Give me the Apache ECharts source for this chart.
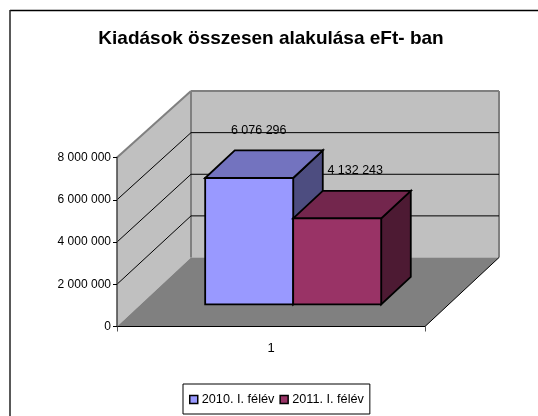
<!DOCTYPE html>
<html><head><meta charset="utf-8">
<style>html,body{margin:0;padding:0;background:#fff}#c{width:538px;height:416px}</style>
<script src="https://cdn.jsdelivr.net/npm/echarts@6/dist/echarts.min.js"></script>
</head><body><div id="c"></div>
<script>
const categories = ['1'];
const seriesNames = ['2010. I. félév', '2011. I. félév'];
const values2010 = [6076296];
const values2011 = [4132243];
const valueLabels2010 = ['6 076 296'];
const valueLabels2011 = ['4 132 243'];
const yMin = 0, yMax = 8000000, yStep = 2000000;
const gridTicks = [2000000, 4000000, 6000000];

const FONT = '"Liberation Sans", Arial, sans-serif';
const DX = 74, DY = -69;          // full depth of the floor
const SCALE = 0.985;              // bars and back wall are slightly foreshortened
const BAR_START = 0.32, BAR_DEPTH = 0.4, GAP = 64.5 / 308, BAR_WIDTH = 88 / 308;

const fmt = v => String(v).replace(/\B(?=(\d{3})+$)/g, ' ');

const chart = echarts.init(document.getElementById('c'), null, {renderer: 'canvas'});

function renderWalls(params, api) {
  const o = api.coord([0, yMin]);
  const size = api.size([1, 0])[0];
  const x0 = o[0] - size / 2, y0 = o[1];
  const top = api.coord([0, yMax])[1];
  const x1 = x0 + size;
  const backH = (y0 - top) * SCALE;
  const poly = (pts, fill, stroke, lw) => ({type: 'polygon', shape: {points: pts},
    style: {fill, stroke: stroke || 'none', lineWidth: lw || 0}});
  const line = (a, b, stroke, lw) => ({type: 'line', shape: {x1: a[0], y1: a[1], x2: b[0], y2: b[1]},
    style: {stroke, lineWidth: lw || 1}});
  const bx = x0 + DX, by = y0 + DY;
  const children = [
    poly([[x0, y0], [x0, top], [bx, by - backH], [bx, by]], '#C0C0C0'),
    poly([[bx, by], [bx, by - backH], [bx + size, by - backH], [bx + size, by]], '#C0C0C0'),
    poly([[x0, y0], [bx, by], [bx + size, by], [x1, y0]], '#808080'),
    line([x0, top], [bx, by - backH], '#808080', 2),
    line([bx, by - backH], [bx + size, by - backH], '#808080', 2),
    line([bx + size, by - backH], [bx + size, by], '#808080', 2),
    line([bx, by - backH], [bx, by], '#808080', 2),
    line([x1, y0], [bx + size, by], '#000', 1)
  ];
  gridTicks.forEach(t => {
    const fy = api.coord([0, t])[1];
    const by2 = by - (y0 - fy) * SCALE;
    children.push(line([x0, fy], [bx, by2], '#000', 1));
    children.push(line([bx, by2], [bx + size, by2], '#000', 1));
  });
  return {type: 'group', children};
}

function barRenderer(order, fill, topFill, sideFill, text, labelDx) {
  return function (params, api) {
    const value = api.value(1);
    const o = api.coord([0, yMin]);
    const size = api.size([1, 0])[0];
    const h = (o[1] - api.coord([0, value])[1]) * SCALE;
    const w = size * BAR_WIDTH;
    const x = o[0] - size / 2 + size * GAP + w * order + DX * BAR_START;
    const base = o[1] + DY * BAR_START;
    const t = base - h;
    const dx = DX * BAR_DEPTH, dy = DY * BAR_DEPTH;
    const st = (f) => ({fill: f, stroke: '#000', lineWidth: 1.8, lineJoin: 'miter'});
    return {type: 'group', children: [
      {type: 'polygon', shape: {points: [[x + w, t], [x + w + dx, t + dy], [x + w + dx, base + dy], [x + w, base]]}, style: st(sideFill)},
      {type: 'polygon', shape: {points: [[x, t], [x + dx, t + dy], [x + w + dx, t + dy], [x + w, t]]}, style: st(topFill)},
      {type: 'rect', shape: {x, y: t, width: w, height: h}, style: st(fill)},
      {type: 'text', style: {x: x + w / 2 + labelDx, y: t - 47.5, text, fill: '#000',
        font: '12.5px ' + FONT, align: 'center', verticalAlign: 'middle'}}
    ]};
  };
}

chart.setOption({
  animation: false,
  backgroundColor: '#fff',
  title: {
    text: 'Kiadások összesen alakulása eFt- ban',
    left: 266, top: 24, textAlign: 'center',
    textStyle: {fontFamily: FONT, fontSize: 19, fontWeight: 'bold', color: '#000'}
  },
  legend: {
    left: 183, top: 384,
    padding: [9, 6, 8, 6], itemGap: 5, itemWidth: 8, itemHeight: 8,
    borderColor: '#000', borderWidth: 1, backgroundColor: '#fff',
    icon: 'rect',
    textStyle: {fontFamily: FONT, fontSize: 12.7, color: '#000', padding: [0, 0, 0, -1]},
    data: seriesNames.map((n, i) => ({name: n, itemStyle: {
      color: i ? '#993366' : '#9999FF', borderColor: '#000', borderWidth: 1.5}}))
  },
  grid: {left: 117, right: 113, top: 157.5, bottom: 89.5},
  xAxis: {
    type: 'category', data: categories,
    axisLine: {lineStyle: {color: '#000', width: 1}, onZero: true},
    axisTick: {show: true, length: 5, lineStyle: {color: '#555'}},
    axisLabel: {fontFamily: FONT, fontSize: 13, color: '#000', margin: 15},
    z: 5
  },
  yAxis: {
    type: 'value', min: yMin, max: yMax, interval: yStep,
    axisLine: {show: true, lineStyle: {color: '#444', width: 1.5}},
    axisTick: {show: true, length: 4, lineStyle: {color: '#000'}},
    splitLine: {show: false},
    axisLabel: {fontFamily: FONT, fontSize: 12, color: '#000', margin: 6, formatter: fmt},
    z: 5
  },
  graphic: [
    {type: 'line', shape: {x1: 10, y1: 10.5, x2: 538, y2: 10.5}, style: {stroke: '#000', lineWidth: 1.5}},
    {type: 'line', shape: {x1: 10, y1: 10, x2: 10, y2: 416}, style: {stroke: '#222', lineWidth: 1.5}}
  ],
  series: [
    {type: 'custom', name: '_walls', data: [[0, 0]], renderItem: renderWalls, silent: true, z: 1, legendHoverLink: false},
    {type: 'custom', name: seriesNames[0], data: values2010.map((v, i) => [i, v]), z: 2,
      itemStyle: {color: '#9999FF'},
      renderItem: barRenderer(0, '#9999FF', '#7373BF', '#4D4D80', valueLabels2010[0], 9.5)},
    {type: 'custom', name: seriesNames[1], data: values2011.map((v, i) => [i, v]), z: 3,
      itemStyle: {color: '#993366'},
      renderItem: barRenderer(1, '#993366', '#73264D', '#4D1A33', valueLabels2011[0], 18)}
  ]
});
</script></body></html>
